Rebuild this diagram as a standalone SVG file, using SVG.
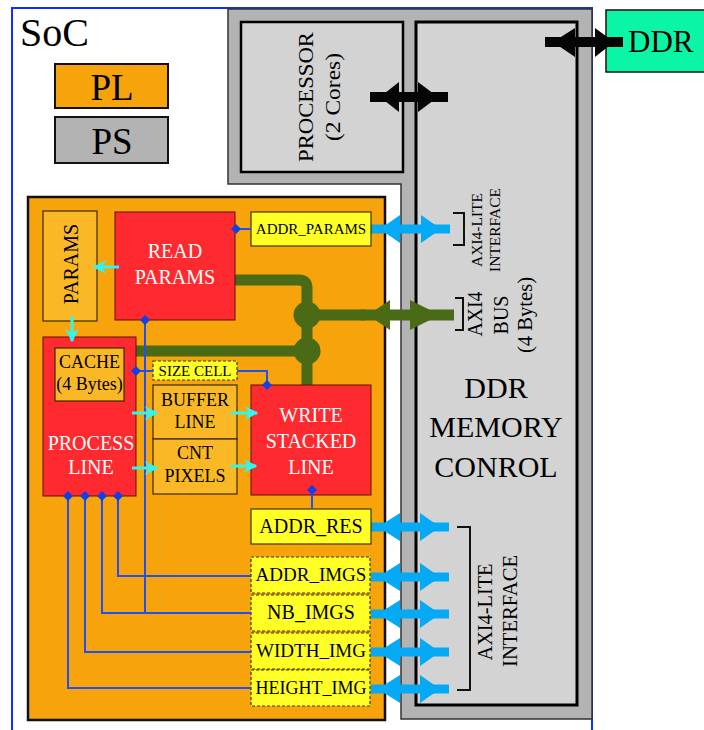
<svg xmlns="http://www.w3.org/2000/svg" width="704" height="730" viewBox="0 0 704 730" font-family="'Liberation Serif', 'Times New Roman', serif">
<defs>
<style>
text{font-family:"Liberation Serif","Times New Roman",serif;}
.red{fill:#FF2A2F;stroke:#5a1010;stroke-width:1}
.lo{fill:#FBB826;stroke:#3a2a00;stroke-width:1.2}
.yl{fill:#FFFF26;stroke:#3a3a00;stroke-width:1.2}
.yd{fill:#FFFF26;stroke:#3a3a00;stroke-width:1.2;stroke-dasharray:3 2}
.wt{fill:#fff;font-size:20px;text-anchor:middle}
.bt{fill:#000;text-anchor:middle}
.bl{fill:none;stroke:#2050F0;stroke-width:2}
.dm{fill:#1040E8}
.cy{stroke:#33F5F0;stroke-width:3;fill:none;marker-end:url(#ca)}
.ba{fill:#05A9F4}
.gr{fill:#4B6A15}
.gl{fill:none;stroke:#4B6A15;stroke-width:11}
.bk{fill:#050505}
</style>
<marker id="ca" viewBox="0 0 10 10" refX="9" refY="5" markerWidth="4.5" markerHeight="4.5" orient="auto" markerUnits="strokeWidth">
<path d="M0,0 L10,5 L0,10 L3,5 z" fill="#33F5F0"/>
</marker>
<path id="dia" d="M0,-5 L5,0 L0,5 L-5,0 z"/>
</defs>

<rect width="704" height="730" fill="#fff"/>

<g id="soc">
<rect x="12" y="8" width="580" height="740" fill="#fff" stroke="#1030FF" stroke-width="2"/>
<text x="20" y="46" font-size="40">SoC</text>
</g>

<g id="legend-pl">
<rect x="55" y="64" width="113" height="44" fill="#F7A30B" stroke="#111" stroke-width="2"/>
<text class="bt" x="112" y="100" font-size="37">PL</text>
</g>
<g id="legend-ps">
<rect x="55" y="117" width="113" height="46" fill="#B3B3B3" stroke="#111" stroke-width="2"/>
<text class="bt" x="112" y="154" font-size="37">PS</text>
</g>

<g id="ps">
<path d="M228,9 H592 V719 H401 V184 H228 Z" fill="#B3B3B3" stroke="#333" stroke-width="1.5"/>
</g>

<g id="processor">
<rect x="241" y="22" width="162" height="150" fill="#D3D3D3" stroke="#000" stroke-width="2.5"/>
<text transform="translate(313,97) rotate(-90)" class="bt" font-size="21" textLength="130" lengthAdjust="spacingAndGlyphs">PROCESSOR</text>
<text transform="translate(340,97) rotate(-90)" class="bt" font-size="21" textLength="88" lengthAdjust="spacingAndGlyphs">(2 Cores)</text>
</g>

<g id="ddr-memory-control">
<rect x="416" y="22" width="161" height="683" fill="#D3D3D3" stroke="#000" stroke-width="3"/>
<text class="bt" x="496" y="398" font-size="30">DDR</text>
<text class="bt" x="496" y="437" font-size="30">MEMORY</text>
<text class="bt" x="496" y="477" font-size="30">CONROL</text>
<text transform="translate(482,230) rotate(-90)" class="bt" font-size="14" textLength="74" lengthAdjust="spacingAndGlyphs">AXI4-LITE</text>
<text transform="translate(500,230) rotate(-90)" class="bt" font-size="14" textLength="84" lengthAdjust="spacingAndGlyphs">INTERFACE</text>
<text transform="translate(482,314) rotate(-90)" class="bt" font-size="20" textLength="45" lengthAdjust="spacingAndGlyphs">AXI4</text>
<text transform="translate(508,315) rotate(-90)" class="bt" font-size="20">BUS</text>
<text transform="translate(532,315) rotate(-90)" class="bt" font-size="20" textLength="76" lengthAdjust="spacingAndGlyphs">(4 Bytes)</text>
<text transform="translate(492,612) rotate(-90)" class="bt" font-size="20" textLength="97" lengthAdjust="spacingAndGlyphs">AXI4-LITE</text>
<text transform="translate(517,611) rotate(-90)" class="bt" font-size="20" textLength="112" lengthAdjust="spacingAndGlyphs">INTERFACE</text>
<path d="M453,213 H464 V245 H453" fill="none" stroke="#111" stroke-width="2"/>
<path d="M455,298 H463 V330 H455" fill="none" stroke="#111" stroke-width="2"/>
<path d="M457,527 H470 V690 H457" fill="none" stroke="#111" stroke-width="2"/>
</g>

<g id="ddr">
<rect x="606" y="10" width="100" height="62" fill="#0BF5A6" stroke="#111" stroke-width="1.5"/>
<text x="628" y="52" font-size="31">DDR</text>
</g>

<g id="pl">
<rect x="28" y="197" width="357" height="523" fill="#F7A30B" stroke="#111" stroke-width="2.5"/>
</g>

<g id="connectors">
<path class="gl" d="M230,280 H299 Q307,280 307,288 V387"/>
<path class="gl" d="M134,351 H307"/>
<path class="gl" d="M307,315 H365"/>
<circle class="gr" cx="307" cy="315" r="13.5"/>
<circle class="gr" cx="307" cy="351" r="13.5"/>
<rect class="gr" x="361" y="309.5" width="93" height="11"/>
<polygon class="gr" points="368,315 390,300 390,330"/>
<polygon class="gr" points="440,315 410,300 410,330"/>

<rect class="bk" x="370" y="92" width="78" height="10"/>
<polygon class="bk" points="380,97 399,82 399,112"/>
<polygon class="bk" points="438,97 418,82 418,112"/>
<rect class="bk" x="545" y="37" width="78" height="10"/>
<polygon class="bk" points="553,42 575,28 575,57"/>
<polygon class="bk" points="614,42 595,28 595,57"/>

<g class="ba">
<rect x="371" y="224.5" width="79" height="9"/>
<polygon points="380,229 400,215 400,243"/>
<polygon points="441,229 421,215 421,243"/>
<rect x="371" y="522.5" width="78" height="9"/>
<polygon points="378,527 400,513 400,541"/>
<polygon points="440,527 420,513 420,541"/>
<rect x="371" y="572.5" width="78" height="9"/>
<polygon points="378,577 400,563 400,591"/>
<polygon points="440,577 420,563 420,591"/>
<rect x="371" y="609.5" width="78" height="9"/>
<polygon points="378,614 400,600 400,628"/>
<polygon points="440,614 420,600 420,628"/>
<rect x="371" y="647.5" width="78" height="9"/>
<polygon points="378,652 400,638 400,666"/>
<polygon points="440,652 420,638 420,666"/>
<rect x="371" y="684.5" width="78" height="9"/>
<polygon points="378,689 400,675 400,703"/>
<polygon points="440,689 420,675 420,703"/>
</g>
</g>

<g id="params">
<rect class="lo" x="43" y="211" width="54" height="110"/>
<text transform="translate(78,264) rotate(-90)" class="bt" font-size="20">PARAMS</text>
</g>
<g id="read-params">
<rect class="red" x="115" y="212" width="120" height="108"/>
<text class="wt" x="175" y="258">READ</text>
<text class="wt" x="175" y="284">PARAMS</text>
</g>
<g id="addr-params">
<rect class="yl" x="251" y="212" width="120" height="34"/>
<text class="bt" x="311" y="234" font-size="15">ADDR_PARAMS</text>
</g>
<g id="process-line">
<rect class="red" x="43" y="337" width="93" height="159"/>
<text class="wt" x="91" y="450">PROCESS</text>
<text class="wt" x="91" y="474">LINE</text>
</g>
<g id="cache">
<rect class="lo" x="55" y="348" width="69" height="53"/>
<text class="bt" x="89.5" y="368" font-size="18">CACHE</text>
<text class="bt" x="89.5" y="390" font-size="18">(4 Bytes)</text>
</g>
<g id="size-cell">
<rect class="yd" x="153" y="361" width="84" height="19"/>
<text class="bt" x="195" y="376" font-size="15">SIZE CELL</text>
</g>
<g id="buffer-line">
<rect class="lo" x="153" y="385" width="84" height="54"/>
<text class="bt" x="195" y="406" font-size="18">BUFFER</text>
<text class="bt" x="195" y="428" font-size="18">LINE</text>
</g>
<g id="cnt-pixels">
<rect class="lo" x="153" y="439" width="84" height="55"/>
<text class="bt" x="195" y="459" font-size="18">CNT</text>
<text class="bt" x="195" y="482" font-size="18">PIXELS</text>
</g>
<g id="write-stacked-line">
<rect class="red" x="251" y="385" width="120" height="110"/>
<text class="wt" x="311" y="422">WRITE</text>
<text class="wt" x="311" y="448">STACKED</text>
<text class="wt" x="311" y="474">LINE</text>
</g>
<g id="addr-res">
<rect class="yl" x="251" y="509" width="120" height="35"/>
<text class="bt" x="311" y="533" font-size="20">ADDR_RES</text>
</g>
<g id="addr-imgs">
<rect class="yd" x="251" y="557" width="119" height="36"/>
<text class="bt" x="311" y="581" font-size="19">ADDR_IMGS</text>
</g>
<g id="nb-imgs">
<rect class="yd" x="251" y="595" width="119" height="36"/>
<text class="bt" x="311" y="619" font-size="20">NB_IMGS</text>
</g>
<g id="width-img">
<rect class="yd" x="251" y="633" width="119" height="36"/>
<text class="bt" x="311" y="657" font-size="19">WIDTH_IMG</text>
</g>
<g id="height-img">
<rect class="yd" x="251" y="670" width="119" height="36"/>
<text class="bt" x="311" y="694" font-size="18">HEIGHT_IMG</text>
</g>

<g id="signal-connectors">
<path class="bl" d="M236,229 H251"/>
<path class="bl" d="M136,371 H153"/>
<path class="bl" d="M237,371 H267 V385"/>
<path class="bl" d="M312,490 V509"/>
<path class="bl" d="M145,320 V613"/>
<path class="bl" d="M118,496 V576 H251"/>
<path class="bl" d="M102,496 V613 H251"/>
<path class="bl" d="M85,496 V652 H251"/>
<path class="bl" d="M68,496 V688 H251"/>
<use href="#dia" class="dm" x="236" y="229"/>
<use href="#dia" class="dm" x="145" y="320"/>
<use href="#dia" class="dm" x="136" y="371"/>
<use href="#dia" class="dm" x="267" y="385"/>
<use href="#dia" class="dm" x="312" y="490"/>
<use href="#dia" class="dm" x="68" y="496"/>
<use href="#dia" class="dm" x="85" y="496"/>
<use href="#dia" class="dm" x="102" y="496"/>
<use href="#dia" class="dm" x="118" y="496"/>
<path class="cy" d="M119,267 H94"/>
<path class="cy" d="M72,316 V341"/>
<path class="cy" d="M132,413 H157"/>
<path class="cy" d="M132,468 H157"/>
<path class="cy" d="M231,413 H257"/>
<path class="cy" d="M231,466 H256"/>
</g>
</svg>
